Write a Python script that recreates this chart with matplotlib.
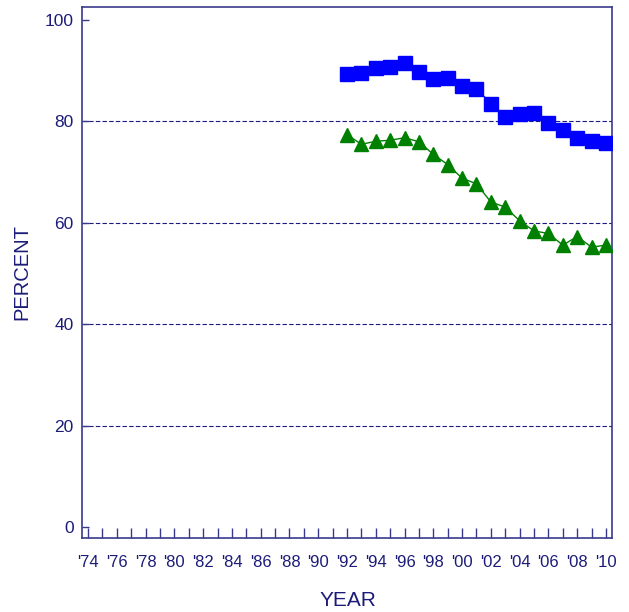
import matplotlib
matplotlib.use("Agg")
import matplotlib.pyplot as plt
import numpy as np

years = list(range(1992, 2011))
blue_vals = [89.3, 89.5, 90.5, 90.7, 91.5, 89.7, 88.4, 88.6, 87.0, 86.5,
             83.5, 80.9, 81.4, 81.7, 79.7, 78.4, 76.7, 76.1, 75.7]
green_vals = [77.4, 75.5, 76.1, 76.3, 76.8, 76.0, 73.5, 71.5, 68.8, 67.7,
              64.1, 63.1, 60.4, 58.4, 57.9, 55.6, 57.3, 55.2, 55.6]
tick_years = list(range(1974, 2011, 2))
tick_labels = ["'%02d" % (y % 100) for y in tick_years]
y_ticks = [0, 20, 40, 60, 80, 100]
grid_vals = [20, 40, 60, 80]

txt = '#1c1c78'
spine = '#3a3a8c'

plt.rcParams['font.family'] = ['Liberation Sans', 'DejaVu Sans']

fig = plt.figure(figsize=(6.29, 6.12), dpi=100)
ax = fig.add_axes([0.1304, 0.1209, 0.973 - 0.1304, 0.9886 - 0.1209])

for g in grid_vals:
    ax.axhline(g, color='#1a1a80', lw=0.8, ls=(0, (4, 2)), zorder=1)

ax.plot(years, blue_vals, color='#0000ff', lw=1, marker='s', ms=10,
        mfc='#0000ff', mec='#0000ff', zorder=3)
ax.plot(years, green_vals, color='#008000', lw=1, marker='^', ms=10,
        mfc='#008000', mec='#008000', zorder=3)

ax.set_xlim(1973.58, 2010.42)
ax.set_ylim(-2.2, 102.6)

ax.set_xticks(list(range(1974, 2011)), minor=False)
ax.set_xticklabels([("'%02d" % (y % 100)) if y in tick_years else '' for y in range(1974, 2011)])
ax.set_yticks(y_ticks)
ax.set_yticklabels([str(v) for v in y_ticks])

ax.tick_params(axis='x', direction='in', length=7, width=1, color=spine,
               labelcolor=txt, labelsize=12, pad=12)
ax.tick_params(axis='y', direction='in', length=5, width=1, color=spine,
               labelcolor=txt, labelsize=12.5, pad=6)

for s in ax.spines.values():
    s.set_color(spine)
    s.set_linewidth(1.2)

fig.text(348 / 629, 1 - 600 / 612, 'YEAR', ha='center', va='center',
         color=txt, fontsize=15)
fig.text(22 / 629, 1 - 272 / 612, 'PERCENT', ha='center', va='center',
         rotation=90, color=txt, fontsize=14.5)

fig.savefig('out.png', dpi=100)
